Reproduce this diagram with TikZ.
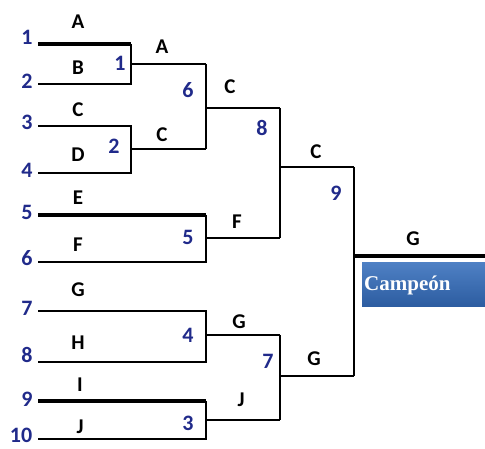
\documentclass[tikz,border=0pt]{standalone}
\usepackage{fontspec}
\setmainfont{Carlito}
\newfontfamily\campfont{Liberation Serif}
\definecolor{numblue}{RGB}{32,42,138}
\definecolor{boxtop}{RGB}{78,128,196}
\definecolor{boxbot}{RGB}{44,92,160}
\tikzset{
  bline/.style={line width=2.8pt},
  tline/.style={line width=4.2pt},
  seednum/.style={font=\fontsize{22}{22}\selectfont\bfseries, text=numblue, inner sep=0pt},
  matchnum/.style={font=\fontsize{22}{22}\selectfont\bfseries, text=numblue, inner sep=0pt},
  team/.style={font=\fontsize{21}{21}\selectfont\bfseries, text=black, inner sep=0pt},
}
\begin{document}
\begin{tikzpicture}[x=1pt,y=-1pt]
\useasboundingbox (0,0) rectangle (485,449);
% line end points
\coordinate (p1) at (38,44);   \coordinate (q1) at (131,44);
\coordinate (p2) at (38,84);   \coordinate (q2) at (131,84);
\coordinate (p3) at (38,126);  \coordinate (q3) at (131,126);
\coordinate (p4) at (38,173);  \coordinate (q4) at (131,173);
\coordinate (p5) at (38,215);  \coordinate (q5) at (206,215);
\coordinate (p6) at (38,262);  \coordinate (q6) at (206,262);
\coordinate (p7) at (38,311);  \coordinate (q7) at (206,311);
\coordinate (p8) at (38,362);  \coordinate (q8) at (206,362);
\coordinate (p9) at (38,401);  \coordinate (q9) at (206,401);
\coordinate (p10) at (38,439); \coordinate (q10) at (206,439);
% match outputs
\coordinate (m1) at (131,64);  \coordinate (o1) at (206,64);
\coordinate (m2) at (131,149); \coordinate (o2) at (206,149);
\coordinate (m6) at (206,108); \coordinate (o6) at (280,108);
\coordinate (m5) at (206,238); \coordinate (o5) at (280,238);
\coordinate (m8) at (280,167); \coordinate (o8) at (354,167);
\coordinate (m4) at (206,335); \coordinate (o4) at (280,335);
\coordinate (m3) at (206,420); \coordinate (o3) at (280,420);
\coordinate (m7) at (280,376); \coordinate (o7) at (354,376);
\coordinate (m9) at (354,256); \coordinate (o9) at (485,256);

% round 1
\draw[tline] (p1) -- (q1);
\draw[bline] (q1) -- (q2) -- (p2);
\draw[bline] (p3) -- (q3) -- (q4) -- (p4);
\draw[tline] (p5) -- (q5);
\draw[bline] (q5) -- (q6) -- (p6);
\draw[bline] (p7) -- (q7) -- (q8) -- (p8);
\draw[tline] (p9) -- (q9);
\draw[bline] (q9) -- (q10) -- (p10);
\draw[bline] (m1) -- (o1);
\draw[bline] (m2) -- (o2);
\draw[bline] (m5) -- (o5);
\draw[bline] (m4) -- (o4);
\draw[bline] (m3) -- (o3);
% round 2
\draw[bline] (o1) -- (o2);
\draw[bline] (m6) -- (o6);
\draw[bline] (o4) -- (o3);
\draw[bline] (m7) -- (o7);
% round 3
\draw[bline] (o6) -- (o5);
\draw[bline] (m8) -- (o8);
% final
\draw[bline] (o8) -- (o7);
\draw[line width=3.4pt] (m9) -- (o9);

% seed numbers
\node[seednum] (n1) at (27,37) {1};
\node[seednum] (n2) at (27,81) {2};
\node[seednum] (n3) at (27,122) {3};
\node[seednum] (n4) at (27,170) {4};
\node[seednum] (n5) at (27,212) {5};
\node[seednum] (n6) at (27,258) {6};
\node[seednum] (n7) at (27,308) {7};
\node[seednum] (n8) at (27,355) {8};
\node[seednum] (n9) at (27,399) {9};
\node[seednum] (n10) at (21,435) {10};
% team letters
\node[team] (tA) at (78,22) {A};
\node[team] (tB) at (78,68) {B};
\node[team] (tC) at (78,110) {C};
\node[team] (tD) at (78,155) {D};
\node[team] (tE) at (78,198) {E};
\node[team] (tF) at (78,245) {F};
\node[team] (tG) at (78,290) {G};
\node[team] (tH) at (78,343) {H};
\node[team] (tI) at (80,385) {I};
\node[team] (tJ) at (80,427) {J};
% match numbers
\node[matchnum] (g1) at (120,63) {1};
\node[matchnum] (g2) at (114,146) {2};
\node[matchnum] (g5) at (188,237) {5};
\node[matchnum] (g4) at (188,335) {4};
\node[matchnum] (g3) at (188,423) {3};
\node[matchnum] (g6) at (188,90) {6};
\node[matchnum] (g8) at (262,128) {8};
\node[matchnum] (g7) at (268,361) {7};
\node[matchnum] (g9) at (336,193) {9};
% winners
\node[team] (w1) at (162,47) {A};
\node[team] (w2) at (162,135) {C};
\node[team] (w6) at (230,87) {C};
\node[team] (w5) at (237,222) {F};
\node[team] (w4) at (239,322) {G};
\node[team] (w3) at (241,400) {J};
\node[team] (w8) at (316,152) {C};
\node[team] (w7) at (314,359) {G};
\node[team] (w9) at (413,239) {G};
% champion box
\shade[top color=boxtop, bottom color=boxbot] (362,263) rectangle (485,307);
\node[font=\campfont\fontsize{21}{21}\selectfont\bfseries, text=white, anchor=west, inner sep=0pt] (camp) at (364,285) {Campeón};
\end{tikzpicture}
\end{document}
